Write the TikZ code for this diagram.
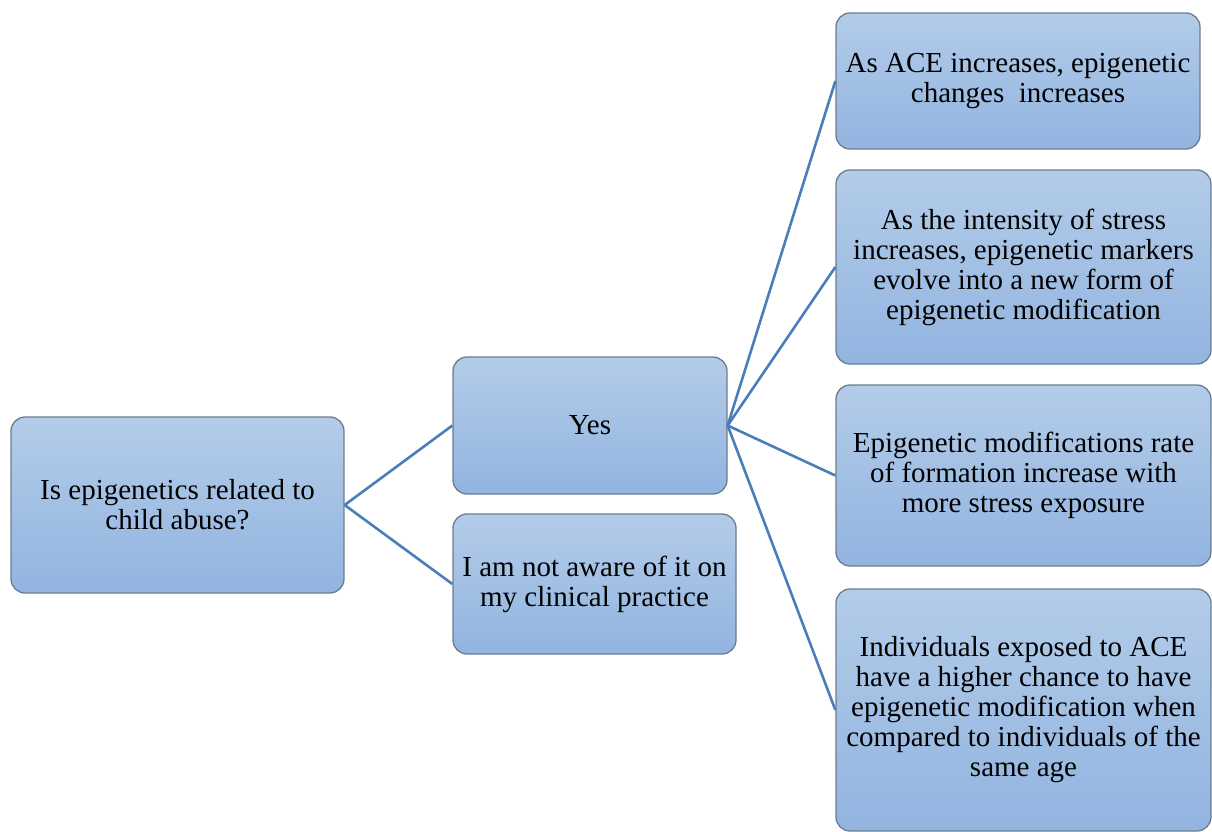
\documentclass[tikz,border=0pt]{standalone}
\usepackage{fontspec}
\setmainfont{Liberation Serif}
\usetikzlibrary{positioning}

\definecolor{boxtop}{HTML}{B3CCE9}
\definecolor{boxbottom}{HTML}{92B4E0}
\definecolor{boxline}{HTML}{6C7C8E}
\definecolor{linkblue}{HTML}{4A7EBB}

\tikzset{
	answer/.style={draw=boxline, line width=1.3pt, rounded corners=14pt,
		top color=boxtop, bottom color=boxbottom, align=center, inner sep=0pt,
		font=\fontsize{29}{30}\selectfont},
	link/.style={draw=linkblue, line width=2.6pt}
}

\begin{document}
\begin{tikzpicture}[x=1pt, y=-1pt]
		% page size as in the reference
		\useasboundingbox (0,0) rectangle (1212,831);
		
		% question on the left
		\node[answer, minimum width=333pt, minimum height=176pt] (question) at (177.5,505)
			{Is epigenetics related to\\child abuse?};
		
		% the two answers
		\node[answer, minimum width=274pt, minimum height=137pt] (yes) at (590,425.5) {Yes};
		\node[answer, minimum width=283pt, minimum height=140pt] (notaware) at (594.5,584)
			{I am not aware of it on\\my clinical practice};
		
		% reasons given for yes
		\node[answer, minimum width=364pt, minimum height=136pt] (ace) at (1018,81)
			{As ACE increases, epigenetic\\changes\ \ increases};
		\node[answer, minimum width=375pt, minimum height=194pt] (intensity) at (1023.5,267)
			{As the intensity of stress\\increases, epigenetic markers\\evolve into a new form of\\epigenetic modification};
		\node[answer, minimum width=375pt, minimum height=181pt] (rate) at (1023.5,475.5)
			{Epigenetic modifications rate\\of formation increase with\\more stress exposure};
		\node[answer, minimum width=375pt, minimum height=242pt] (exposed) at (1023.5,710)
			{Individuals exposed to ACE\\have a higher chance to have\\epigenetic modification when\\compared to individuals of the\\same age};
		
		% connectors
		\draw[link] (question.east) -- (yes.west);
		\draw[link] (question.east) -- (notaware.west);
		\foreach \reason in {ace,intensity,rate,exposed}
			\draw[link] (yes.east) -- (\reason.west);
\end{tikzpicture}
\end{document}
